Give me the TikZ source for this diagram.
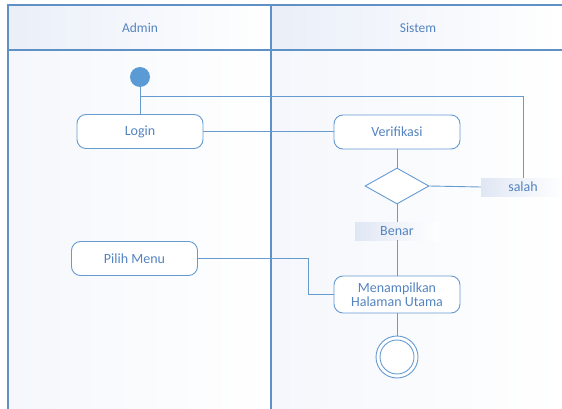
\documentclass[tikz,border=0pt]{standalone}
\usepackage{fontspec}
\setmainfont{Carlito}
\usetikzlibrary{shapes.geometric}
\definecolor{linec}{RGB}{102,155,210}
\definecolor{lanec}{RGB}{96,145,198}
\definecolor{textc}{RGB}{84,132,192}
\definecolor{startc}{RGB}{91,155,213}
\definecolor{tint}{RGB}{234,239,248}
\definecolor{lbltint}{RGB}{224,231,244}
\begin{document}
\begin{tikzpicture}[x=1pt,y=-1pt,
  act/.style={draw=linec, line width=0.9pt, rounded corners=9pt, fill=white,
    minimum width=126pt, minimum height=34pt, inner sep=1pt, text=textc,
    font=\fontsize{14}{14.5}\selectfont, align=center},
  lbl/.style={left color=lbltint, right color=white, minimum width=84pt,
    minimum height=18pt, inner sep=0pt, text=textc, font=\fontsize{14}{14}\selectfont},
  conn/.style={draw=linec, line width=0.9pt},
  lane/.style={draw=lanec, line width=1.1pt},
  head/.style={text=textc, font=\fontsize{13.5}{14}\selectfont}]
\useasboundingbox (0,0) rectangle (562,409);
% lane backgrounds
\fill[left color=tint, right color=white] (8,5) rectangle (271,50);
\fill[left color=tint, right color=white] (271,5) rectangle (562,50);
\fill[left color=tint!50, right color=white] (8,50) rectangle (271,409);
\fill[left color=tint!50, right color=white] (271,50) rectangle (562,409);
% lane lines
\draw[lane] (8,409) -- (8,5) -- (562,5);
\draw[lane] (8,50) -- (562,50);
\draw[lane] (271,5) -- (271,409);
\node[head] (hadmin) at (140,28) {Admin};
\node[head] (hsistem) at (418,28) {Sistem};
% nodes
\node[circle, fill=startc, minimum size=20pt, inner sep=0pt] (start) at (140,77) {};
\node[act] (login) at (140,131.5) {Login};
\node[act] (verif) at (397,132) {Verifikasi};
\node[diamond, draw=linec, line width=0.9pt, fill=white, aspect=1.78,
  minimum width=64pt, minimum height=36pt, inner sep=0pt] (dec) at (397,186) {};
\node[lbl] (salah) at (523,187) {salah};
\node[lbl] (benar) at (397,231) {Benar};
\node[act] (pilih) at (134.5,258.5) {Pilih Menu};
\node[act, minimum height=37pt] (menam) at (397,294.5) {Menampilkan\\Halaman Utama};
\node[circle, draw=linec, line width=0.9pt, fill=white, minimum size=42pt, inner sep=0pt] (end) at (397,357) {};
\node[circle, draw=linec, line width=0.9pt, minimum size=34pt, inner sep=0pt] (endin) at (end.center) {};
% connectors
\coordinate (j1) at (140,96);
\draw[conn] (start) -- (login);
\draw[conn] (j1) -| (salah.north);
\draw[conn] (login.east) -- (login.east -| verif.west);
\draw[conn] (verif) -- (dec);
\draw[conn] (dec.east) -- (salah.west);
\draw[conn] (dec) -- (benar);
\draw[conn] (benar) -- (menam);
\draw[conn] (pilih.east) -- ++(110,0) |- (menam.west);
\draw[conn] (menam) -- (end);
\end{tikzpicture}
\end{document}
